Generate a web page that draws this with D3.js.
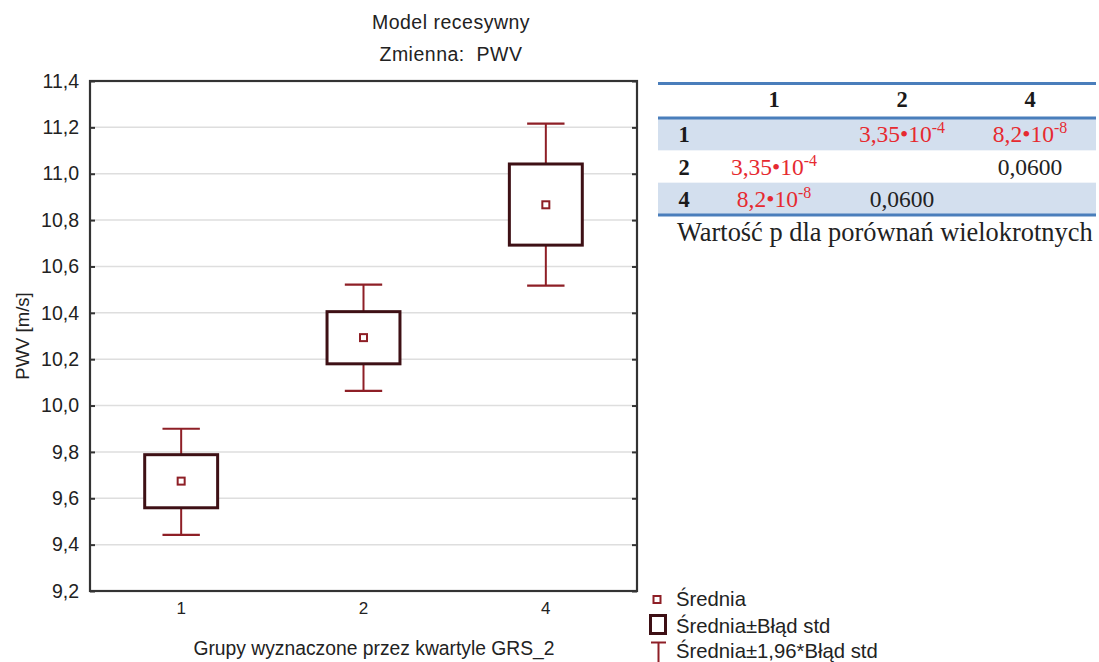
<!DOCTYPE html>
<html>
<head>
<meta charset="utf-8">
<script src="https://cdn.jsdelivr.net/npm/d3@7"></script>
<style>
  html, body { margin: 0; padding: 0; background: #fff; }
  svg { display: block; }
</style>
</head>
<body>
<svg id="chart" width="1099" height="662"></svg>
<script>
// Groups (GRS_2 quartiles) and PWV summary statistics
const categories = ["1", "2", "4"];
const means      = [9.674, 10.293, 10.866];
const seLow      = [9.559, 10.180, 10.692];
const seHigh     = [9.788, 10.405, 11.042];
const ciLow      = [9.442, 10.063, 10.517];
const ciHigh     = [9.900, 10.522, 11.216];
const yTicks     = [9.2, 9.4, 9.6, 9.8, 10.0, 10.2, 10.4, 10.6, 10.8, 11.0, 11.2, 11.4];

// p-value table for multiple comparisons
const tableHeader = ["1", "2", "4"];
const tableRows = ["1", "2", "4"];
// each cell: [mantissa, exponent or null, significant]
const tableCells = [
  [null, ["3,35•10", "-4", true], ["8,2•10", "-8", true]],
  [["3,35•10", "-4", true], null, ["0,0600", null, false]],
  [["8,2•10", "-8", true], ["0,0600", null, false], null]
];

const svg = d3.select("#chart");
const sans = "'Liberation Sans', Arial, sans-serif";
const serif = "'Liberation Serif', 'Times New Roman', serif";

const plot = { left: 90, right: 637, top: 81, bottom: 591 };

const x = d3.scaleBand().domain(categories).range([plot.left, plot.right]);
const y = d3.scaleLinear().domain([9.2, 11.4]).range([plot.bottom, plot.top]);

const fmt = v => d3.format(".1f")(v).replace(".", ",");

// Titles
svg.append("text").attr("x", 451).attr("y", 29).attr("text-anchor", "middle")
  .attr("font-family", sans).attr("font-size", 19.5).attr("fill", "#222")
  .attr("letter-spacing", 0.5).text("Model recesywny");
svg.append("text").attr("x", 451).attr("y", 61).attr("text-anchor", "middle")
  .attr("font-family", sans).attr("font-size", 19.5).attr("fill", "#222")
  .attr("letter-spacing", 0.5).attr("xml:space", "preserve").text("Zmienna:  PWV");

// Gridlines
svg.append("g").selectAll("line")
  .data(yTicks.slice(1, -1))
  .join("line")
  .attr("x1", plot.left).attr("x2", plot.right)
  .attr("y1", d => y(d)).attr("y2", d => y(d))
  .attr("stroke", "#dedede").attr("stroke-width", 1.5);

// Y axis (left) with inward ticks
const yAxis = d3.axisLeft(y).tickValues(yTicks).tickSize(-5).tickPadding(11).tickFormat(fmt);
const gy = svg.append("g").attr("transform", `translate(${plot.left},0)`).call(yAxis);
gy.select(".domain").remove();
gy.selectAll(".tick line").attr("stroke", "#333").attr("stroke-width", 2);
gy.selectAll(".tick text").attr("font-family", sans).attr("font-size", 19.5).attr("fill", "#222");

// Right inward ticks
const yAxisR = d3.axisRight(y).tickValues(yTicks).tickSize(-5).tickFormat("");
const gyr = svg.append("g").attr("transform", `translate(${plot.right},0)`).call(yAxisR);
gyr.select(".domain").remove();
gyr.selectAll(".tick line").attr("stroke", "#333").attr("stroke-width", 2);

// X axis labels
const xAxis = d3.axisBottom(x).tickSize(0).tickPadding(11);
const gx = svg.append("g").attr("transform", `translate(0,${plot.bottom})`).call(xAxis);
gx.select(".domain").remove();
gx.selectAll(".tick text").attr("font-family", sans).attr("font-size", 17).attr("fill", "#222");

// Frame
svg.append("rect")
  .attr("x", plot.left).attr("y", plot.top)
  .attr("width", plot.right - plot.left).attr("height", plot.bottom - plot.top)
  .attr("fill", "none").attr("stroke", "#333").attr("stroke-width", 2.2);

// Axis titles
svg.append("text").attr("x", 374).attr("y", 655).attr("text-anchor", "middle")
  .attr("font-family", sans).attr("font-size", 19.3).attr("fill", "#222")
  .text("Grupy wyznaczone przez kwartyle GRS_2");
svg.append("text")
  .attr("transform", `translate(29,${(plot.top + plot.bottom) / 2}) rotate(-90)`)
  .attr("text-anchor", "middle")
  .attr("font-family", sans).attr("font-size", 18.5).attr("fill", "#222")
  .text("PWV [m/s]");

// Box/whisker marks
const whiskerColor = "#8e1f26";
const boxColor = "#3e1015";
const boxW = x.bandwidth() * 0.4;
const capW = x.bandwidth() * 0.205;
const marks = svg.append("g");
categories.forEach((c, i) => {
  const cx = x(c) + x.bandwidth() / 2;
  const g = marks.append("g");
  // whiskers
  g.append("line").attr("x1", cx).attr("x2", cx).attr("y1", y(ciHigh[i])).attr("y2", y(seHigh[i]))
    .attr("stroke", whiskerColor).attr("stroke-width", 2);
  g.append("line").attr("x1", cx).attr("x2", cx).attr("y1", y(seLow[i])).attr("y2", y(ciLow[i]))
    .attr("stroke", whiskerColor).attr("stroke-width", 2);
  g.append("line").attr("x1", cx - capW / 2).attr("x2", cx + capW / 2)
    .attr("y1", y(ciHigh[i])).attr("y2", y(ciHigh[i]))
    .attr("stroke", whiskerColor).attr("stroke-width", 2.2);
  g.append("line").attr("x1", cx - capW / 2).attr("x2", cx + capW / 2)
    .attr("y1", y(ciLow[i])).attr("y2", y(ciLow[i]))
    .attr("stroke", whiskerColor).attr("stroke-width", 2.2);
  // box
  g.append("rect").attr("x", cx - boxW / 2).attr("y", y(seHigh[i]))
    .attr("width", boxW).attr("height", y(seLow[i]) - y(seHigh[i]))
    .attr("fill", "#fff").attr("stroke", boxColor).attr("stroke-width", 3);
  // mean
  g.append("rect").attr("x", cx - 3.5).attr("y", y(means[i]) - 3.5)
    .attr("width", 7).attr("height", 7)
    .attr("fill", "#fff").attr("stroke", whiskerColor).attr("stroke-width", 2);
});

// Legend
const lg = svg.append("g");
const legendFont = 20.3;
lg.append("rect").attr("x", 653.5).attr("y", 596).attr("width", 7).attr("height", 7)
  .attr("fill", "#fff").attr("stroke", whiskerColor).attr("stroke-width", 2);
lg.append("text").attr("x", 676).attr("y", 606).attr("font-family", sans).attr("font-size", legendFont)
  .attr("fill", "#222").text("Średnia");
lg.append("rect").attr("x", 650.5).attr("y", 615.5).attr("width", 15).attr("height", 18)
  .attr("fill", "#fff").attr("stroke", boxColor).attr("stroke-width", 3);
lg.append("text").attr("x", 676).attr("y", 633).attr("font-family", sans).attr("font-size", legendFont)
  .attr("fill", "#222").text("Średnia±Błąd std");
lg.append("line").attr("x1", 651).attr("x2", 666).attr("y1", 642.5).attr("y2", 642.5)
  .attr("stroke", whiskerColor).attr("stroke-width", 2);
lg.append("line").attr("x1", 658.5).attr("x2", 658.5).attr("y1", 642.5).attr("y2", 662)
  .attr("stroke", whiskerColor).attr("stroke-width", 2);
lg.append("text").attr("x", 676).attr("y", 658).attr("font-family", sans).attr("font-size", legendFont)
  .attr("fill", "#222").text("Średnia±1,96*Błąd std");

// p-value table
const tbl = svg.append("g");
const tLeft = 658, tRight = 1096;
const colX = d3.scalePoint().domain(tableHeader).range([774, 1030]);
const rowY = d3.scaleBand().domain(tableRows).range([118, 215]);
const headerBaseline = 107;

// striped bands
tableRows.forEach((r, i) => {
  if (i % 2 === 0) {
    tbl.append("rect").attr("x", tLeft).attr("y", rowY(r))
      .attr("width", tRight - tLeft).attr("height", rowY.bandwidth())
      .attr("fill", "#d3dfee");
  }
});
// rules
[83.5, 118, 215].forEach(yy => {
  tbl.append("line").attr("x1", tLeft).attr("x2", tRight).attr("y1", yy).attr("y2", yy)
    .attr("stroke", "#4a7ebb").attr("stroke-width", 3);
});
// header
tableHeader.forEach(h => {
  tbl.append("text").attr("x", colX(h)).attr("y", headerBaseline).attr("text-anchor", "middle")
    .attr("font-family", serif).attr("font-weight", "bold").attr("font-size", 22.5)
    .attr("fill", "#1a1a1a").text(h);
});
// rows
tableRows.forEach((r, i) => {
  const base = rowY(r) + rowY.bandwidth() / 2 + 8;
  tbl.append("text").attr("x", 684).attr("y", base).attr("text-anchor", "middle")
    .attr("font-family", serif).attr("font-weight", "bold").attr("font-size", 22.5)
    .attr("fill", "#1a1a1a").text(r);
  tableCells[i].forEach((cell, j) => {
    if (!cell) return;
    const t = tbl.append("text").attr("x", colX(tableHeader[j])).attr("y", base)
      .attr("text-anchor", "middle").attr("font-family", serif).attr("font-size", 23.5)
      .attr("fill", cell[2] ? "#e62a30" : "#222");
    t.append("tspan").text(cell[0]);
    if (cell[1]) {
      t.append("tspan").attr("dy", -9).attr("font-size", 16).text(cell[1]);
    }
  });
});
// caption
tbl.append("text").attr("x", 677).attr("y", 241).attr("font-family", serif)
  .attr("font-size", 26.4).attr("fill", "#222")
  .text("Wartość p dla porównań wielokrotnych");
</script>
</body>
</html>
